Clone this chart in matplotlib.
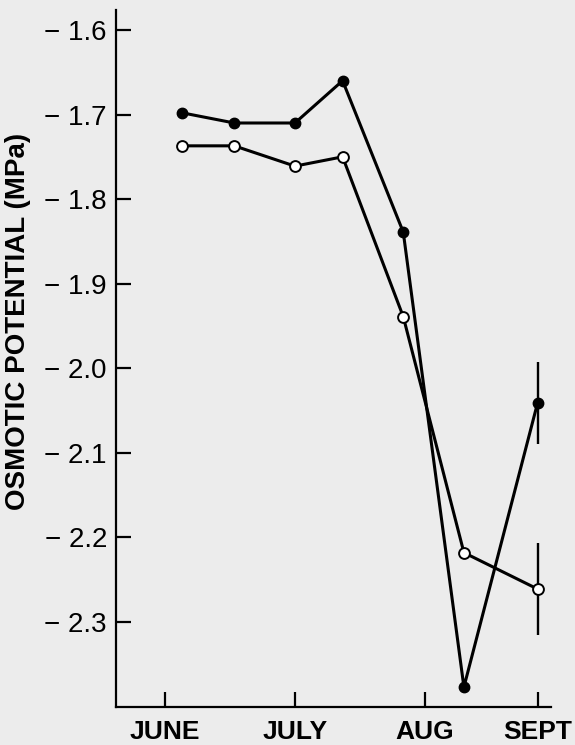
import matplotlib
matplotlib.use("Agg")
import matplotlib.pyplot as plt

# sampling days (days after 1 June) and osmotic potential (MPa)
days = [4, 16, 30, 41, 55, 69, 86]
filled_vals = [-1.698, -1.710, -1.710, -1.660, -1.839, -2.377, -2.041]
open_vals = [-1.737, -1.737, -1.761, -1.750, -1.939, -2.218, -2.261]
# error bars only shown on the last sample
filled_err = [0, 0, 0, 0, 0, 0, 0.048]
open_err = [0, 0, 0, 0, 0, 0, 0.054]

month_pos = [0, 30, 60, 86]
month_labels = ["JUNE", "JULY", "AUG", "SEPT"]
ytick_vals = [-1.6, -1.7, -1.8, -1.9, -2.0, -2.1, -2.2, -2.3]
ytick_labels = ["\u2212 1.6", "\u2212 1.7", "\u2212 1.8", "\u2212 1.9",
                "\u2212 2.0", "\u2212 2.1", "\u2212 2.2", "\u2212 2.3"]

plt.rcParams["font.family"] = ["Liberation Sans", "DejaVu Sans"]
bg = "#ececec"

fig = plt.figure(figsize=(5.75, 7.45), dpi=100, facecolor=bg)
ax = fig.add_axes([116 / 575, 1 - 707 / 745, (551 - 116) / 575, (707 - 10) / 745])
ax.set_facecolor(bg)

# error bars (no caps)
ax.errorbar(days[-1], filled_vals[-1], yerr=filled_err[-1], fmt="none",
            ecolor="black", elinewidth=1.7, capsize=0, zorder=2)
ax.errorbar(days[-1], open_vals[-1], yerr=open_err[-1], fmt="none",
            ecolor="black", elinewidth=1.7, capsize=0, zorder=2)

ax.plot(days, filled_vals, color="black", lw=2.2, marker="o", ms=7.5,
        mfc="black", mec="black", zorder=3)
ax.plot(days, open_vals, color="black", lw=2.2, marker="o", ms=7.8,
        mfc="white", mec="black", mew=1.4, zorder=4)

ax.set_xlim(-11.3, 89.1)
ax.set_ylim(-2.4005, -1.5764)

for side in ["top", "right"]:
    ax.spines[side].set_visible(False)
for side in ["left", "bottom"]:
    ax.spines[side].set_linewidth(1.6)

ax.set_yticks(ytick_vals)
ax.set_yticklabels(ytick_labels, fontsize=20)
ax.set_xticks(month_pos)
ax.set_xticklabels(month_labels, fontsize=19, fontweight="bold")
ax.tick_params(axis="y", direction="in", length=11, width=1.6, pad=6.5)
ax.tick_params(axis="x", direction="in", length=11, width=1.6, pad=9.2)

fig.text(18 / 575, 1 - 321 / 745, "OSMOTIC POTENTIAL (MPa)", rotation=90,
         ha="center", va="center", fontsize=20, fontweight="bold")

fig.savefig("out.png", dpi=100, facecolor=bg)
